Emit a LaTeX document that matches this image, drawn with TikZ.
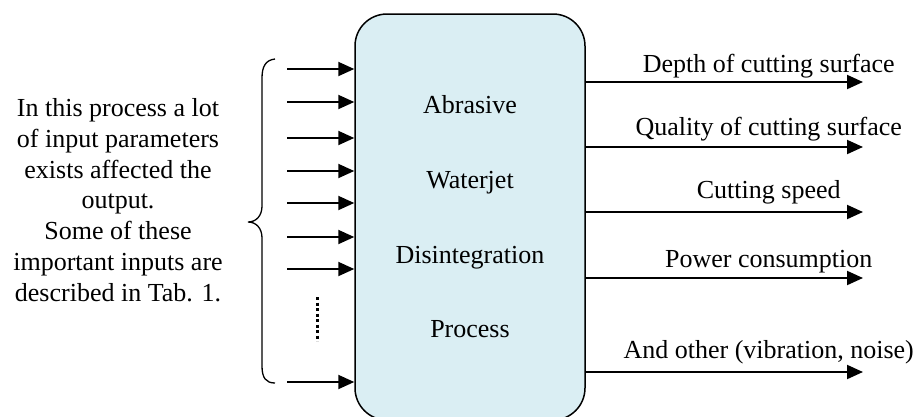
\documentclass[tikz,border=0pt]{standalone}
\usepackage{fontspec}
\setmainfont{Liberation Serif}
\usepackage{tikz}
\usetikzlibrary{positioning}
\usetikzlibrary{calc}
\usetikzlibrary{arrows.meta}
\definecolor{procfill}{HTML}{DAEEF3}
\tikzstyle{process} = [draw, rectangle, rounded corners=32pt, line width=1.5pt, fill=procfill, minimum width=230pt, minimum height=406pt]
\tikzstyle{word} = [font=\fontsize{26}{30.8}\selectfont, inner sep=0pt]
\tikzstyle{input} = [coordinate]
\tikzstyle{output} = [coordinate]
\tikzstyle{arr} = [line width=2pt, -{Triangle[length=16pt,width=14pt]}]

\begin{document}
\begin{tikzpicture}[x=1pt,y=-1pt]
    \clip (0,0) rectangle (919,416);
    \node [process] (box) at (470,217) {};
    \node [word, anchor=base] (abrasive) at (470,113) {Abrasive};
    \node [word, anchor=base] (waterjet) at (470,188) {Waterjet};
    \node [word, anchor=base] (disint) at (470,263) {Disintegration};
    \node [word, anchor=base] (proc) at (470,337) {Process};
    \node [word, align=center] (note) at (118,200) {In this process a lot\\of input parameters\\exists affected the\\output.\\Some of these\\important inputs are\\described in Tab. 1.};

    \node [input] (in1) at (287,69) {};
    \node [input] (in2) at (287,102) {};
    \node [input] (in3) at (287,138) {};
    \node [input] (in4) at (287,171) {};
    \node [input] (in5) at (287,203) {};
    \node [input] (in6) at (287,237) {};
    \node [input] (in7) at (287,269) {};
    \node [input] (in8) at (287,382) {};
    \node [input] (dottop) at (317,297) {};
    \node [input] (dotbot) at (317,341) {};

    \node [output] (out1) at (863,82) {};
    \node [output] (out2) at (863,147) {};
    \node [output] (out3) at (863,212) {};
    \node [output] (out4) at (863,278) {};
    \node [output] (out5) at (863,372) {};

    \draw [arr] (in1) -- (in1 -| box.west);
    \draw [arr] (in2) -- (in2 -| box.west);
    \draw [arr] (in3) -- (in3 -| box.west);
    \draw [arr] (in4) -- (in4 -| box.west);
    \draw [arr] (in5) -- (in5 -| box.west);
    \draw [arr] (in6) -- (in6 -| box.west);
    \draw [arr] (in7) -- (in7 -| box.west);
    \draw [arr] (in8) -- (in8 -| box.west);
    \draw [line width=3pt, dash pattern=on 3pt off 2.5pt] (dottop) -- (dotbot);

    % brace round the inputs
    \draw [line width=1.3pt] (275,59) .. controls (266,60) and (262,66) .. (262,78)
        -- (262,206) .. controls (262,216) and (256,222) .. (248,222)
        .. controls (256,222) and (262,228) .. (262,238)
        -- (262,366) .. controls (262,378) and (266,383) .. (275,383);

    \draw [arr] (out1 -| box.east) -- node[word, pos=0.66, anchor=base, yshift=10pt] {Depth of cutting surface} (out1);
    \draw [arr] (out2 -| box.east) -- node[word, pos=0.66, anchor=base, yshift=12pt] {Quality of cutting surface} (out2);
    \draw [arr] (out3 -| box.east) -- node[word, pos=0.66, anchor=base, yshift=14pt] {Cutting speed} (out3);
    \draw [arr] (out4 -| box.east) -- node[word, pos=0.66, anchor=base, yshift=11pt] {Power consumption} (out4);
    \draw [arr] (out5 -| box.east) -- node[word, pos=0.66, anchor=base, yshift=14pt] {And other (vibration, noise)} (out5);
\end{tikzpicture}
\end{document}
